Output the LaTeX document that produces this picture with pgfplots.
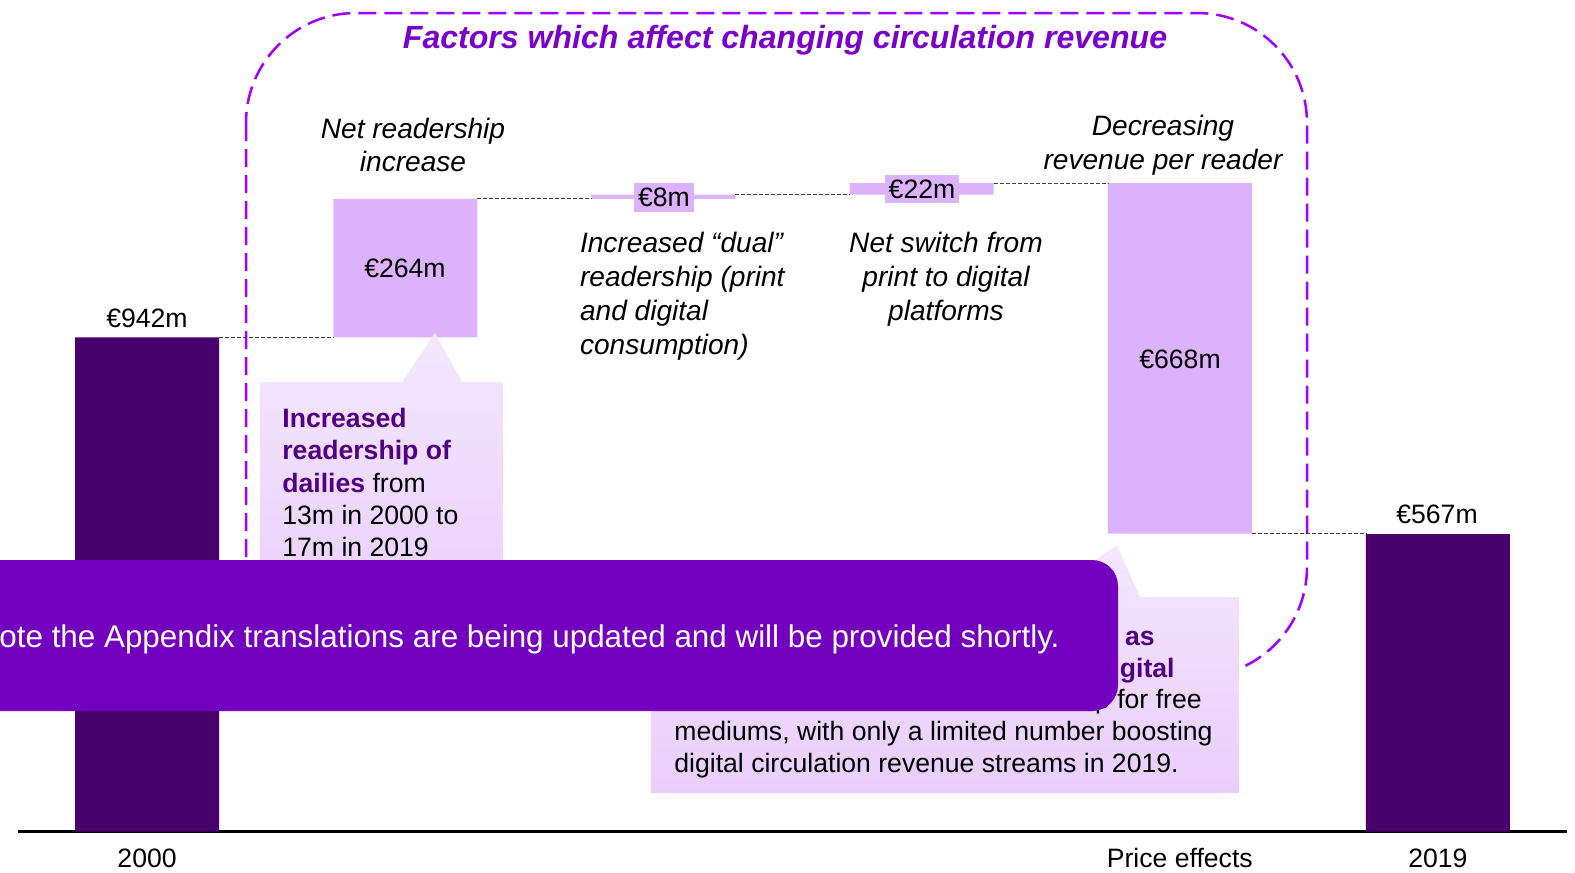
\documentclass[border=0pt]{standalone}
\usepackage{pgfplots}
\pgfplotsset{compat=1.18}
\usepackage{fontspec}
\setmainfont{Liberation Sans}
\definecolor{darkbar}{RGB}{72,0,108}
\definecolor{lightbar}{RGB}{220,178,252}
\definecolor{bannercol}{RGB}{115,0,190}
\definecolor{titlecol}{RGB}{122,0,204}
\definecolor{dashcol}{RGB}{160,0,255}
\definecolor{calltop}{RGB}{244,231,254}
\definecolor{callbot}{RGB}{233,206,251}
\definecolor{calltext}{RGB}{80,0,128}
\definecolor{conn}{RGB}{60,60,60}
\newcommand{\bodyfont}{\fontsize{13.35}{17}\selectfont}
\newcommand{\itfont}{\fontsize{14.1}{17}\selectfont\itshape}

\begin{document}
\begin{tikzpicture}
\pgfplotsset{
  common/.style={scale only axis, width=774.5bp, height=415.75bp,
    at={(9bp,-415.75bp)}, anchor=south west,
    xmin=-0.5, xmax=5.5, ymin=0, ymax=1585, clip=false}
}
% bars
\begin{axis}[common, ybar stacked, bar width=0.5577,
  axis x line=bottom, axis y line=none,
  axis line style={-}, every outer x axis line/.append style={-},
  every inner x axis line/.append style={-},
  x axis line style={-, line width=1.25bp, black},
  xtick={0,1,2,3,4,5}, xticklabels={2000,,,,Price effects,2019},
  major tick length=0, ytick=\empty,
  xticklabel style={font=\bodyfont, anchor=center, yshift=-13.25bp}]
\addplot[fill=none, draw=none] coordinates {(0,0) (1,942) (2,1206) (3,1214) (4,568) (5,0)};
\addplot[fill=darkbar, draw=none] coordinates {(0,942) (1,0) (2,0) (3,0) (4,0) (5,567)};
\addplot[fill=lightbar, draw=none] coordinates {(0,0) (1,264) (2,8) (3,22) (4,668) (5,0)};
\end{axis}
% connectors
\begin{axis}[common, hide axis]
\addplot[conn, line width=0.5bp, dash pattern=on 2bp off 1bp] coordinates {(0.2789,942) (0.7211,942)};
\addplot[conn, line width=0.5bp, dash pattern=on 2bp off 1bp] coordinates {(1.2789,1206) (1.7211,1206)};
\addplot[conn, line width=0.5bp, dash pattern=on 2bp off 1bp] coordinates {(2.2789,1214) (2.7211,1214)};
\addplot[conn, line width=0.5bp, dash pattern=on 2bp off 1bp] coordinates {(3.2789,1236) (3.7211,1236)};
\addplot[conn, line width=0.5bp, dash pattern=on 2bp off 1bp] coordinates {(4.2789,567.5) (4.7211,567.5)};
\end{axis}

\begin{scope}[x=0.5bp,y=-0.5bp]
% value labels
\node[font=\bodyfont] at (147,318) {€942m};
\node[font=\bodyfont] at (405,268) {€264m};
\node[font=\bodyfont, fill=lightbar, minimum width=30bp, minimum height=14.5bp, inner sep=0pt] at (664,197.5) {€8m};
\node[font=\bodyfont, fill=lightbar, minimum width=37bp, minimum height=14bp, inner sep=0pt] at (922,189) {€22m};
\node[font=\bodyfont] at (1180,359) {€668m};
\node[font=\bodyfont] at (1437,514) {€567m};
% italic descriptions
\node[font=\itfont, align=center] at (413,145) {Net readership\\increase};
\node[font=\itfont, align=left, anchor=west] at (573,296.5) {Increased “dual”\\readership (print\\and digital\\consumption)};
\node[font=\itfont, align=center] at (946,279) {Net switch from\\print to digital\\platforms};
\node[font=\itfont, align=center] at (1163,145.5) {Decreasing\\revenue per reader};
% title
\node[font=\fontsize{16.1}{19}\selectfont\bfseries\itshape, text=titlecol] at (785,40) {Factors which affect changing circulation revenue};
% dashed frame
\draw[dashcol, line width=1.25bp, dash pattern=on 9bp off 4bp, rounded corners=55bp] (246,13) rectangle (1307,677);
% upper callout
\shade[top color=calltop, bottom color=callbot] (260,382) -- (402,382) -- (435,333) -- (462,382) -- (503,382) -- (503,640) -- (260,640) -- cycle;
\node[font=\bodyfont\bfseries, text=calltext, anchor=base west, inner sep=0pt] at (282,427) {Increased};
\node[font=\bodyfont\bfseries, text=calltext, anchor=base west, inner sep=0pt] at (282,459) {readership of};
\node[font=\bodyfont, anchor=base west, inner sep=0pt] at (282,492) {\textcolor{calltext}{\bfseries dailies} from};
\node[font=\bodyfont, anchor=base west, inner sep=0pt] at (282,524) {13m in 2000 to};
\node[font=\bodyfont, anchor=base west, inner sep=0pt] at (282,556) {17m in 2019};
% lower callout
\shade[top color=calltop, bottom color=callbot] (651,597) -- (1040,597) -- (1117,545) -- (1140,597) -- (1239,597) -- (1239,793) -- (651,793) -- cycle;
\node[font=\bodyfont\bfseries, text=calltext, anchor=base east, inner sep=0pt] at (1155,645) {as};
\node[font=\bodyfont\bfseries, text=calltext, anchor=base east, inner sep=0pt] at (1175,677) {digital};
\node[font=\bodyfont, anchor=base east, inner sep=0pt] at (1202,708) {up for free};
\node[font=\bodyfont, anchor=base west, inner sep=0pt] at (674,740) {mediums, with only a limited number boosting};
\node[font=\bodyfont, anchor=base west, inner sep=0pt] at (674,772) {digital circulation revenue streams in 2019.};
% banner
\fill[bannercol, rounded corners=13bp] (-60,560) rectangle (1118,711);
\node[font=\fontsize{15.75}{18}\selectfont, text=white, anchor=base east, inner sep=0pt] at (1060,647) {ote the Appendix translations are being updated and will be provided shortly.};
% bounding box
\pgfresetboundingbox
\path[use as bounding box] (0,0) rectangle (1575,872);
\end{scope}
\end{tikzpicture}
\end{document}
